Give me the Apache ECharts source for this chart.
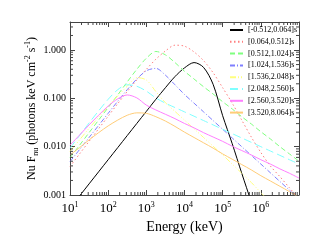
<!DOCTYPE html>
<html><head><meta charset="utf-8">
<script src="https://cdn.jsdelivr.net/npm/echarts@6/dist/echarts.min.js"></script>
<style>html,body{margin:0;padding:0;background:#fff}#c{width:320px;height:240px}</style>
</head><body><div id="c"></div>
<script>
// Energy grid (keV), quarter decades
const energies = [10, 17.8, 31.6, 56.2, 100, 178, 316, 562, 1000, 1778, 3162, 5623,
  1e4, 1.78e4, 3.16e4, 5.62e4, 1e5, 1.78e5, 3.16e5, 5.62e5, 1e6, 1.78e6, 3.16e6, 5.62e6, 1e7];

const seriesNames = ['[-0.512,0.064]s', '[0.064,0.512]s', '[0.512,1.024]s', '[1.024,1.536]s',
  '[1.536,2.048]s', '[2.048,2.560]s', '[2.560,3.520]s', '[3.520,8.064]s'];

const fluxA = [5.37e-4, 9.55e-4, 1.698e-3, 3.02e-3, 5.37e-3, 9.55e-3, 0.01698, 0.0302, 0.0537, 0.0955, 0.166, 0.282,
  0.427, 0.550, 0.437, 0.195, 0.0437, 0.0115, 2.82e-3, 7.08e-4, 1.6e-4, null, null, null, null];
const fluxB = [3.89e-3, 7.08e-3, 0.01288, 0.02344, 0.0427, 0.0776, 0.138, 0.240, 0.398, 0.646, 0.955, 1.259,
  1.202, 0.912, 0.603, 0.339, 0.166, 0.0794, 0.0355, 0.01585, 7.59e-3, 3.98e-3, 2.40e-3, 1.41e-3, 8.32e-4];
const fluxC = [5.89e-3, 0.01072, 0.0195, 0.0355, 0.0646, 0.1175, 0.219, 0.398, 0.676, 0.933, 0.794, 0.550,
  0.363, 0.251, 0.1738, 0.1230, 0.0851, 0.0603, 0.0417, 0.0295, 0.0204, 0.01445, 0.0100, 7.08e-3, 5.01e-3];
const fluxD = [4.90e-3, 8.71e-3, 0.01549, 0.0275, 0.0490, 0.0871, 0.1514, 0.251, 0.372, 0.417, 0.302, 0.191,
  0.1202, 0.0794, 0.0525, 0.0347, 0.0229, 0.01514, 0.0100, 6.61e-3, 4.37e-3, 2.88e-3, 1.905e-3, 1.259e-3, 8.32e-4];
const fluxE = [7.94e-3, 0.0138, 0.0240, 0.0407, 0.0692, 0.1122, 0.178, 0.269, 0.240, 0.138, 0.0813, 0.0537,
  0.0355, 0.0234, 0.01549, 0.01023, 6.76e-3, 4.37e-3, 2.82e-3, 1.82e-3, 1.12e-3, 7.08e-4, 4.47e-4, null, null];
const fluxF = [9.33e-3, 0.0170, 0.0309, 0.0550, 0.0955, 0.151, 0.191, 0.178, 0.141, 0.102, 0.0794, 0.0646,
  0.0525, 0.0427, 0.0347, 0.0282, 0.0229, 0.0186, 0.01514, 0.0123, 0.0100, 8.13e-3, 6.61e-3, 5.37e-3, 4.37e-3];
const fluxG = [0.01072, 0.01738, 0.0282, 0.0447, 0.0692, 0.0977, 0.1175, 0.1023, 0.0724, 0.0575, 0.0468, 0.0380,
  0.0302, 0.0245, 0.0195, 0.01585, 0.01288, 0.01023, 8.32e-3, 6.76e-3, 5.37e-3, 4.37e-3, 3.47e-3, 2.82e-3, 2.24e-3];
const fluxH = [6.76e-3, 9.55e-3, 0.0138, 0.0195, 0.0269, 0.0355, 0.0447, 0.0501, 0.0490, 0.0417, 0.0339, 0.0263,
  0.0200, 0.01549, 0.01202, 9.33e-3, 7.08e-3, 5.50e-3, 4.27e-3, 3.31e-3, 2.51e-3, 1.95e-3, 1.514e-3, 1.175e-3, 8.91e-4];

const xMajorExp = [1, 2, 3, 4, 5, 6, 7];
const yMajorTicks = [0.001, 0.01, 0.1, 1];
const minorMult = [2, 3, 4, 5, 6, 7, 8, 9];

const xMin = 10, xMax = 1e7, yMin = 0.001, yMax = 3.8;

const fluxes = [fluxA, fluxB, fluxC, fluxD, fluxE, fluxF, fluxG, fluxH];
const colors = ['#000000', '#ff7f7f', '#7fff7f', '#7f7fff', '#ffff7f', '#7fffff', '#ff7fff', '#ffcc77'];
const dashes = ['solid', [1.5, 2.5], [5, 3], [5, 2, 1, 2], [6, 2, 1, 2, 1, 2, 1, 2], [8, 4], 'solid', 'solid'];

const xMinor = [];
xMajorExp.slice(0, -1).forEach(e => minorMult.forEach(m => xMinor.push([m * Math.pow(10, e), 1])));
const yMinor = [];
yMajorTicks.forEach(t => minorMult.forEach(m => { const v = +(m * t).toPrecision(3); if (v < yMax) yMinor.push([100, v]); }));

const FONT = 'Liberation Serif';
const AX = '#444';

function tickX(params, api) {
  const cs = params.coordSys;
  const x = api.coord([api.value(0), api.value(1)])[0];
  const st = { stroke: AX, lineWidth: 1 };
  return { type: 'group', children: [
    { type: 'line', shape: { x1: x, y1: cs.y + cs.height, x2: x, y2: cs.y + cs.height - 3 }, style: st },
    { type: 'line', shape: { x1: x, y1: cs.y, x2: x, y2: cs.y + 3 }, style: st }
  ]};
}
function tickY(params, api) {
  const cs = params.coordSys;
  const y = api.coord([api.value(0), api.value(1)])[1];
  const st = { stroke: AX, lineWidth: 1 };
  return { type: 'group', children: [
    { type: 'line', shape: { x1: cs.x, y1: y, x2: cs.x + 3, y2: y }, style: st },
    { type: 'line', shape: { x1: cs.x + cs.width, y1: y, x2: cs.x + cs.width - 3, y2: y }, style: st }
  ]};
}

const series = seriesNames.map((name, i) => ({
  name, type: 'line', xAxisIndex: 0, yAxisIndex: 0,
  data: energies.map((e, k) => [e, fluxes[i][k]]).filter(p => p[1] != null),
  showSymbol: false, symbol: 'none', smooth: 0.3, clip: true,
  lineStyle: { color: colors[i], width: 1, type: dashes[i] },
  itemStyle: { color: colors[i] },
  z: 3
}));
series.push({ type: 'custom', renderItem: tickX, data: xMinor, silent: true, clip: false, z: 5 });
series.push({ type: 'custom', renderItem: tickY, data: yMinor, silent: true, clip: false, z: 5 });

const axisCommon = {
  axisLine: { show: true, lineStyle: { color: AX, width: 1 } },
  axisTick: { show: true, inside: true, length: 5, lineStyle: { color: AX } },
  splitLine: { show: false }
};

const chart = echarts.init(document.getElementById('c'), null, { renderer: 'canvas' });
chart.setOption({
  animation: false,
  backgroundColor: '#fff',
  grid: { left: 70, top: 22, right: 21, bottom: 45 },
  legend: {
    orient: 'vertical', left: 229, top: 26, padding: 0,
    itemWidth: 13, itemHeight: 8, itemGap: 3.8,
    itemStyle: { opacity: 0 },
    textStyle: { fontFamily: FONT, fontSize: 8, color: '#000' },
    data: seriesNames
  },
  xAxis: [
    Object.assign({
      type: 'log', min: xMin, max: xMax, position: 'bottom',
      name: 'Energy (keV)', nameLocation: 'middle', nameGap: 22,
      nameTextStyle: { fontFamily: FONT, fontSize: 14, color: '#000' },
      axisLabel: {
        margin: 6, showMaxLabel: false,
        formatter: v => '{a|10}{b|' + Math.round(Math.log10(v)) + '}',
        rich: {
          a: { fontFamily: FONT, fontSize: 13, color: '#000', lineHeight: 15 },
          b: { fontFamily: FONT, fontSize: 8, color: '#000', verticalAlign: 'top', lineHeight: 8 }
        }
      }
    }, axisCommon),
    Object.assign({ type: 'log', min: xMin, max: xMax, position: 'top', axisLabel: { show: false } }, axisCommon)
  ],
  yAxis: [
    Object.assign({
      type: 'log', min: yMin, max: yMax, position: 'left',
      name: '{t|Nu F}{sub|nu}{t| (photons keV cm}{sup|-2}{t| s}{sup|-1}{t|)}',
      nameLocation: 'middle', nameGap: 30, nameRotate: 90, nameMoveOverlap: false,
      nameTextStyle: {
        rich: {
          t: { fontFamily: FONT, fontSize: 12, color: '#000', lineHeight: 16 },
          sub: { fontFamily: FONT, fontSize: 8, color: '#000', verticalAlign: 'bottom', lineHeight: 8 },
          sup: { fontFamily: FONT, fontSize: 8, color: '#000', verticalAlign: 'top', lineHeight: 8 }
        }
      },
      axisLabel: {
        margin: 4, showMaxLabel: false,
        fontFamily: FONT, fontSize: 10, color: '#000',
        formatter: v => (v > 1.5 ? '' : v.toFixed(3))
      }
    }, axisCommon),
    Object.assign({ type: 'log', min: yMin, max: yMax, position: 'right', axisLabel: { show: false } }, axisCommon)
  ],
  series
});
</script></body></html>
